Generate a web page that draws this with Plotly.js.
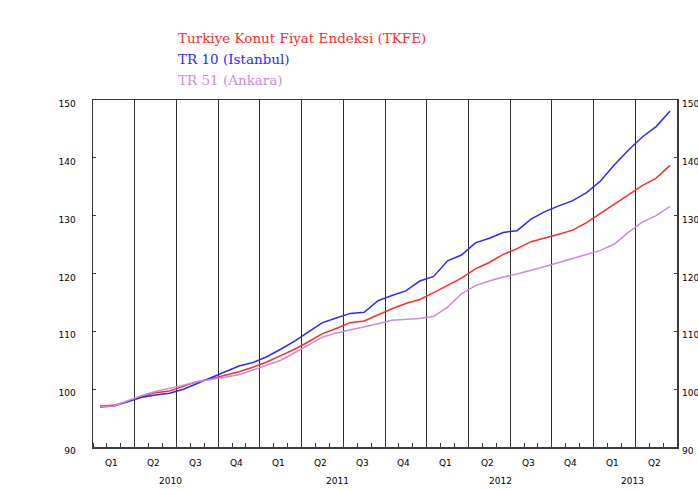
<!DOCTYPE html>
<html>
<head>
<meta charset="utf-8">
<script src="https://cdn.plot.ly/plotly-3.0.1.min.js"></script>
<style>html,body{margin:0;padding:0;background:#fff;}#chart{width:698px;height:490px;}</style>
</head>
<body>
<div id="chart"></div>
<script>
// Monthly index, Jan 2010 .. Jun 2013 (month index 0..41)
var months = [];
for (var i = 0; i < 42; i++) months.push(i);

var seriesNames = ["Turkiye Konut Fiyat Endeksi (TKFE)", "TR 10 (Istanbul)", "TR 51 (Ankara)"];

var tkfe = [97.1, 97.2, 97.9, 98.7, 99.4, 99.7, 100.5, 101.3, 101.8, 102.4, 103.0, 103.8,
            104.7, 105.8, 106.9, 108.2, 109.6, 110.5, 111.5, 111.8, 112.9, 113.9, 114.8, 115.5,
            116.7, 117.9, 119.2, 120.8, 121.9, 123.3, 124.3, 125.5, 126.1, 126.8, 127.5, 128.8,
            130.4, 132.0, 133.7, 135.2, 136.5, 138.7];

var istanbul = [96.9, 97.1, 97.8, 98.6, 99.0, 99.3, 100.0, 101.0, 101.9, 103.0, 104.0, 104.6,
                105.6, 106.9, 108.3, 109.9, 111.5, 112.3, 113.1, 113.3, 115.3, 116.2, 117.0, 118.7,
                119.5, 122.2, 123.2, 125.3, 126.1, 127.1, 127.4, 129.4, 130.7, 131.7, 132.6, 134.0,
                136.0, 138.8, 141.3, 143.6, 145.4, 148.1];

var ankara = [97.0, 97.1, 98.0, 98.9, 99.6, 100.1, 100.7, 101.3, 101.7, 102.0, 102.5, 103.3,
              104.1, 105.0, 106.3, 107.7, 109.0, 109.7, 110.2, 110.7, 111.3, 111.9, 112.1, 112.2,
              112.6, 114.2, 116.5, 117.9, 118.7, 119.4, 119.9, 120.5, 121.2, 121.9, 122.6, 123.2,
              124.0, 125.1, 127.1, 128.9, 130.0, 131.6];

var quarterCenters = [1, 4, 7, 10, 13, 16, 19, 22, 25, 28, 31, 34, 37, 40];
var quarterLabels = ["Q1","Q2","Q3","Q4","Q1","Q2","Q3","Q4","Q1","Q2","Q3","Q4","Q1","Q2"];
var quarterBounds = [2.5, 5.5, 8.5, 11.5, 14.5, 17.5, 20.5, 23.5, 26.5, 29.5, 32.5, 35.5, 38.5];
var yearCenters = [5.1, 17.1, 28.8, 38.3];
var yearLabels = ["2010", "2011", "2012", "2013"];
var yTicks = [90, 100, 110, 120, 130, 140, 150];

var colors = ["#ff2a2a", "#2a2aff", "#cc8ad8"];
var series = [tkfe, istanbul, ankara];
var seriesAxes = ["y", "y", "y2"];

var traces = series.map(function (s, k) {
  return {
    x: months, y: s, type: "scatter", mode: "lines", name: seriesNames[k],
    xaxis: "x", yaxis: seriesAxes[k],
    line: {color: colors[k], width: 1.5}, hoverinfo: "skip"
  };
});

var tickFont = {family: "DejaVu Sans, Verdana, sans-serif", size: 9, color: "#000"};

var annotations = [];
seriesNames.forEach(function (n, k) {
  annotations.push({
    xref: "paper", yref: "paper", x: 0.142, y: 1.179 - k * 0.06,
    xanchor: "left", yanchor: "middle", showarrow: false, text: n,
    font: {family: "DejaVu Serif, serif", size: 13.5, color: colors[k]}
  });
});
quarterCenters.forEach(function (q, k) {
  annotations.push({
    xref: "x", yref: "paper", x: q - 0.15, y: -0.046, xanchor: "center", yanchor: "middle",
    showarrow: false, text: quarterLabels[k], font: tickFont
  });
});
yearCenters.forEach(function (c, k) {
  annotations.push({
    xref: "x", yref: "paper", x: c, y: -0.098, xanchor: "center", yanchor: "middle",
    showarrow: false, text: yearLabels[k], font: tickFont
  });
});

var layout = {
  width: 698, height: 490,
  margin: {l: 93, r: 21, t: 100, b: 43, pad: 0},
  paper_bgcolor: "#fff", plot_bgcolor: "#fff",
  showlegend: false,
  xaxis: {
    range: [-0.5, 41.5], tickvals: quarterBounds, ticktext: quarterBounds.map(function(){return "";}),
    ticks: "", showgrid: true, gridcolor: "#2e2e2e", gridwidth: 1, zeroline: false,
    showline: true, linecolor: "#3a3a3a", linewidth: 1.5, mirror: true,
    minor: {tick0: 0.5, dtick: 1, ticks: "inside", ticklen: 4, tickcolor: "#3a3a3a", tickwidth: 1, showgrid: false},
    fixedrange: true
  },
  yaxis: {
    range: [90, 150], tickvals: yTicks, ticks: "inside", ticklen: 3, tickcolor: "#3a3a3a",
    showgrid: false, zeroline: false, showline: true, linecolor: "#3a3a3a", linewidth: 1.5,
    mirror: true, tickfont: tickFont, ticklabelstandoff: 14, ticklabelshift: 4, fixedrange: true
  },
  yaxis2: {
    range: [90, 150], tickvals: yTicks, ticks: "inside", ticklen: 3, tickcolor: "#3a3a3a",
    overlaying: "y", side: "right", showgrid: false, zeroline: false, showline: false,
    tickfont: tickFont, ticklabelstandoff: 4, ticklabelshift: 4, fixedrange: true
  },
  annotations: annotations
};

Plotly.newPlot("chart", traces, layout, {staticPlot: true, displayModeBar: false});
</script>
</body>
</html>
